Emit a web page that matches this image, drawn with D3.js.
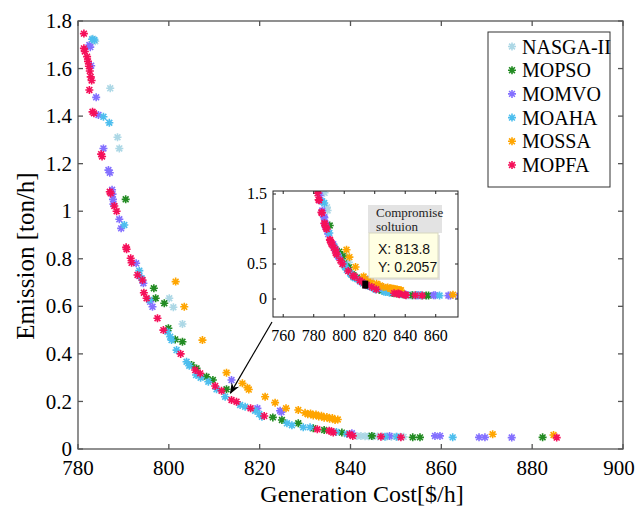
<!DOCTYPE html>
<html><head><meta charset="utf-8">
<script src="https://cdn.jsdelivr.net/npm/d3@7"></script>
<style>body{margin:0;background:#fff}svg{display:block}</style>
</head><body><svg id="c" width="637" height="506"></svg>
<script>
// ---------------- data ----------------
const seriesNames = ["NASGA-II", "MOPSO", "MOMVO", "MOAHA", "MOSSA", "MOPFA"];
const seriesColors = ["#add8e6", "#228b22", "#8470ff", "#4dbeee", "#ffa500", "#f5105a"];

const nsga2 = [[783.3,1.725],[783.8,1.715],[787.1,1.517],[788.7,1.311],[789.1,1.264],[800.1,0.634],[801.0,0.596],[803.0,0.526],
  [841.4,0.055],[842.3,0.055],[843.2,0.054],[844.0,0.054],[845.0,0.054],[846.0,0.053],[847.0,0.053],[848.0,0.053],[849.0,0.052],[850.0,0.052],[851.0,0.052],[851.7,0.051]];
const mopso = [[790.5,1.05],[796.7,0.676],[797.1,0.634],[799.0,0.613],[799.9,0.508],[801.4,0.461],[803.0,0.451],[805.0,0.353],[806.1,0.339],
  [808.3,0.304],[809.7,0.29],[812.7,0.251],[822.9,0.133],[824.9,0.122],[828.5,0.108],[831.8,0.087],[834.2,0.08],[838.1,0.069],[844.7,0.055],
  [853.7,0.049],[855.3,0.049],[882.3,0.049]];
const momvo = [[782.5,1.699],[782.7,1.69],[782.9,1.612],[784.0,1.479],[784.5,1.405],[785.6,1.264],[786.7,1.173],[787.0,1.162],[787.5,1.09],
  [787.6,1.072],[787.7,1.05],[787.8,1.03],[789.1,0.966],[789.5,0.928],[792.8,0.781],[793.5,0.727],[794.4,0.697],[795.9,0.619],[796.4,0.598],
  [813.8,0.29],[819.5,0.171],[824.5,0.161],[824.8,0.155],[840.3,0.066],[848.6,0.055],[858.6,0.055],[859.7,0.055],[868.3,0.049],[869.6,0.049],[875.5,0.048]];
const moaha = [[783.1,1.723],[783.6,1.72],[785.6,1.397],[786.9,1.372],[790.2,0.942],[793.5,0.75],[794.0,0.718],[795.7,0.627],[799.7,0.493],
  [800.3,0.472],[800.6,0.458],[801.7,0.416],[803.9,0.367],[804.5,0.35],[806.0,0.311],[807.0,0.30],[808.7,0.283],[810.5,0.251],[812.4,0.22],
  [815.7,0.185],[816.8,0.178],[819.0,0.161],[819.9,0.147],[820.5,0.136],[826.0,0.108],[827.1,0.10],[829.6,0.091],[831.1,0.091],[836.9,0.072],
  [839.2,0.063],[847.6,0.052],[850.2,0.052],[862.5,0.049]];
const mossa = [[801.5,0.704],[803.4,0.598],[807.4,0.458],[812.7,0.321],[816.2,0.276],[817.3,0.258],[817.6,0.25],[821.2,0.22],[823.4,0.195],
  [825.8,0.171],[828.5,0.164],[830.0,0.152],[830.6,0.146],[831.2,0.149],[831.8,0.141],[832.4,0.145],[833.0,0.137],[833.6,0.140],[834.2,0.131],
  [834.8,0.135],[835.4,0.127],[836.0,0.130],[836.6,0.122],[837.2,0.124],[871.3,0.062],[884.7,0.059]];
const mopfa = [[781.3,1.747],[781.3,1.685],[781.5,1.672],[782.0,1.65],[782.2,1.63],[782.4,1.61],[782.6,1.59],[782.8,1.565],[783.0,1.55],
  [782.5,1.51],[783.2,1.418],[783.5,1.412],[785.1,1.24],[785.3,1.23],[787.0,1.082],[787.2,1.075],[788.0,1.022],[788.5,1.0],[790.6,0.848],
  [790.7,0.84],[791.6,0.802],[791.8,0.783],[793.1,0.732],[794.2,0.711],[794.5,0.657],[795.1,0.634],[797.5,0.55],[798.8,0.50],[802.6,0.40],
  [805.8,0.332],[806.9,0.318],[810.2,0.265],[811.6,0.245],[813.8,0.206],[814.9,0.199],[818.0,0.171],[821.0,0.139],[832.7,0.083],[835.3,0.077],
  [835.8,0.075],[836.2,0.069],[839.8,0.062],[840.5,0.055],[846.7,0.052],[851.1,0.049],[885.4,0.048]];
const allSeries = [nsga2, mopso, momvo, moaha, mossa, mopfa];

const xTicks = [780, 800, 820, 840, 860, 880, 900];
const yTicks = [0, 0.2, 0.4, 0.6, 0.8, 1, 1.2, 1.4, 1.6, 1.8];
const insetXTicks = [760, 780, 800, 820, 840, 860];
const insetYTicks = [0, 0.5, 1, 1.5];
const compromise = [813.8, 0.2057];
const tipTitle = ["Compromise", "soltuion"];

// ---------------- drawing ----------------
const W = 637;
const svg = d3.select("#c");
const serif = "'Liberation Serif','Times New Roman',serif";
const sans = "'Liberation Sans',Arial,sans-serif";

const x = d3.scaleLinear().domain([780, 900]).range([78, 623]);
const y = d3.scaleLinear().domain([0, 1.8]).range([449, 21]);

const star = "M-4,0L4,0M0,-4L0,4M-2.9,-2.9L2.9,2.9M-2.9,2.9L2.9,-2.9";

function drawPoints(g, sx, sy) {
  allSeries.forEach((data, i) => {
    g.append("g").selectAll("path").data(data).join("path")
      .attr("d", star)
      .attr("transform", d => `translate(${sx(d[0])},${sy(d[1])})`)
      .attr("stroke", seriesColors[i]).attr("stroke-width", 1.6).attr("fill", "none");
  });
}

function drawFrame(g, sx, sy, xt, yt, opts) {
  const [x0, x1] = sx.range(), [y0, y1] = sy.range();
  const tl = opts.tick;
  g.append("rect").attr("x", x0).attr("y", y1).attr("width", x1 - x0).attr("height", y0 - y1)
    .attr("fill", "none").attr("stroke", opts.color).attr("stroke-width", opts.sw);
  xt.forEach(v => {
    const px = sx(v);
    g.append("line").attr("x1", px).attr("x2", px).attr("y1", y0).attr("y2", y0 - tl).attr("stroke", opts.color).attr("stroke-width", opts.sw);
    g.append("line").attr("x1", px).attr("x2", px).attr("y1", y1).attr("y2", y1 + tl).attr("stroke", opts.color).attr("stroke-width", opts.sw);
    g.append("text").attr("x", Math.min(px, W - 18)).attr("y", y0 + opts.xlab).attr("text-anchor", "middle")
      .attr("font-family", serif).attr("font-size", opts.fs).text(v);
  });
  yt.forEach(v => {
    const py = sy(v);
    g.append("line").attr("x1", x0).attr("x2", x0 + tl).attr("y1", py).attr("y2", py).attr("stroke", opts.color).attr("stroke-width", opts.sw);
    g.append("line").attr("x1", x1).attr("x2", x1 - tl).attr("y1", py).attr("y2", py).attr("stroke", opts.color).attr("stroke-width", opts.sw);
    g.append("text").attr("x", x0 - opts.ylab).attr("y", py).attr("dy", "0.34em").attr("text-anchor", "end")
      .attr("font-family", serif).attr("font-size", opts.fs).text(v);
  });
}

// main plot
const main = svg.append("g");
drawPoints(main, x, y);
drawFrame(main, x, y, xTicks, yTicks, {tick: 5, color: "#555", sw: 1.3, fs: 21, xlab: 26, ylab: 6});

// axis titles
svg.append("text").attr("x", 362).attr("y", 502).attr("text-anchor", "middle")
  .attr("font-family", serif).attr("font-size", 24).text("Generation Cost[$/h]");
svg.append("text").attr("transform", "translate(34,256) rotate(-90)").attr("text-anchor", "middle")
  .attr("font-family", serif).attr("font-size", 25).text("Emission [ton/h]");

// legend
const lg = svg.append("g");
lg.append("rect").attr("x", 488).attr("y", 32).attr("width", 122).attr("height", 155)
  .attr("fill", "#fff").attr("stroke", "#333").attr("stroke-width", 1);
seriesNames.forEach((n, i) => {
  const yy = 46.5 + i * 23.7;
  lg.append("path").attr("d", star).attr("transform", `translate(512,${yy})`)
    .attr("stroke", seriesColors[i]).attr("stroke-width", 1.6).attr("fill", "none");
  lg.append("text").attr("x", 522).attr("y", yy).attr("dy", "0.35em")
    .attr("font-family", serif).attr("font-size", 20).text(n);
});

// inset
const xi = d3.scaleLinear().domain([753.3, 874.6]).range([273, 458]);
const yi = d3.scaleLinear().domain([-0.257, 1.543]).range([317, 191]);
svg.append("defs").append("clipPath").attr("id", "ic").append("rect")
  .attr("x", 273).attr("y", 191).attr("width", 185).attr("height", 126);
const inset = svg.append("g");
inset.append("rect").attr("x", 273).attr("y", 191).attr("width", 185).attr("height", 126).attr("fill", "#fff");
const ip = inset.append("g").attr("clip-path", "url(#ic)");
drawPoints(ip, xi, yi);
drawFrame(inset, xi, yi, insetXTicks, insetYTicks, {tick: 3, color: "#222", sw: 1, fs: 16, xlab: 24, ylab: 6});

// compromise marker
inset.append("rect").attr("x", xi(compromise[0]) - 3).attr("y", yi(compromise[1]) - 4)
  .attr("width", 6).attr("height", 8).attr("fill", "#000");

// tip title box
inset.append("rect").attr("x", 368).attr("y", 205).attr("width", 74).attr("height", 28).attr("fill", "#e3e3e3");
tipTitle.forEach((t, i) => inset.append("text").attr("x", 376).attr("y", 217 + i * 13.5)
  .attr("font-family", serif).attr("font-size", 13).attr("fill", "#222").text(t));
// data tip
inset.append("rect").attr("x", 371).attr("y", 235).attr("width", 69).attr("height", 45).attr("fill", "#cfcfcf").attr("opacity", 0.6);
inset.append("rect").attr("x", 369).attr("y", 233).attr("width", 69).attr("height", 45)
  .attr("fill", "#ffffe3").attr("stroke", "#d8d8c0").attr("stroke-width", 1);
inset.append("text").attr("x", 378).attr("y", 254).attr("font-family", sans).attr("font-size", 14).attr("fill", "#111")
  .text("X: " + compromise[0]);
inset.append("text").attr("x", 378).attr("y", 272).attr("font-family", sans).attr("font-size", 14).attr("fill", "#111")
  .text("Y: " + compromise[1]);

// arrow
svg.select("defs").append("marker").attr("id", "ah").attr("viewBox", "0 0 10 10").attr("refX", 9).attr("refY", 5)
  .attr("markerWidth", 9).attr("markerHeight", 9).attr("orient", "auto")
  .append("path").attr("d", "M0,1L10,5L0,9L3,5Z").attr("fill", "#000");
svg.append("line").attr("x1", xi.range()[0] - 1).attr("y1", yi.range()[0] + 5)
  .attr("x2", x(compromise[0]) - 1).attr("y2", y(compromise[1]) - 7)
  .attr("stroke", "#000").attr("stroke-width", 1.2).attr("marker-end", "url(#ah)");
</script>
</body></html>
